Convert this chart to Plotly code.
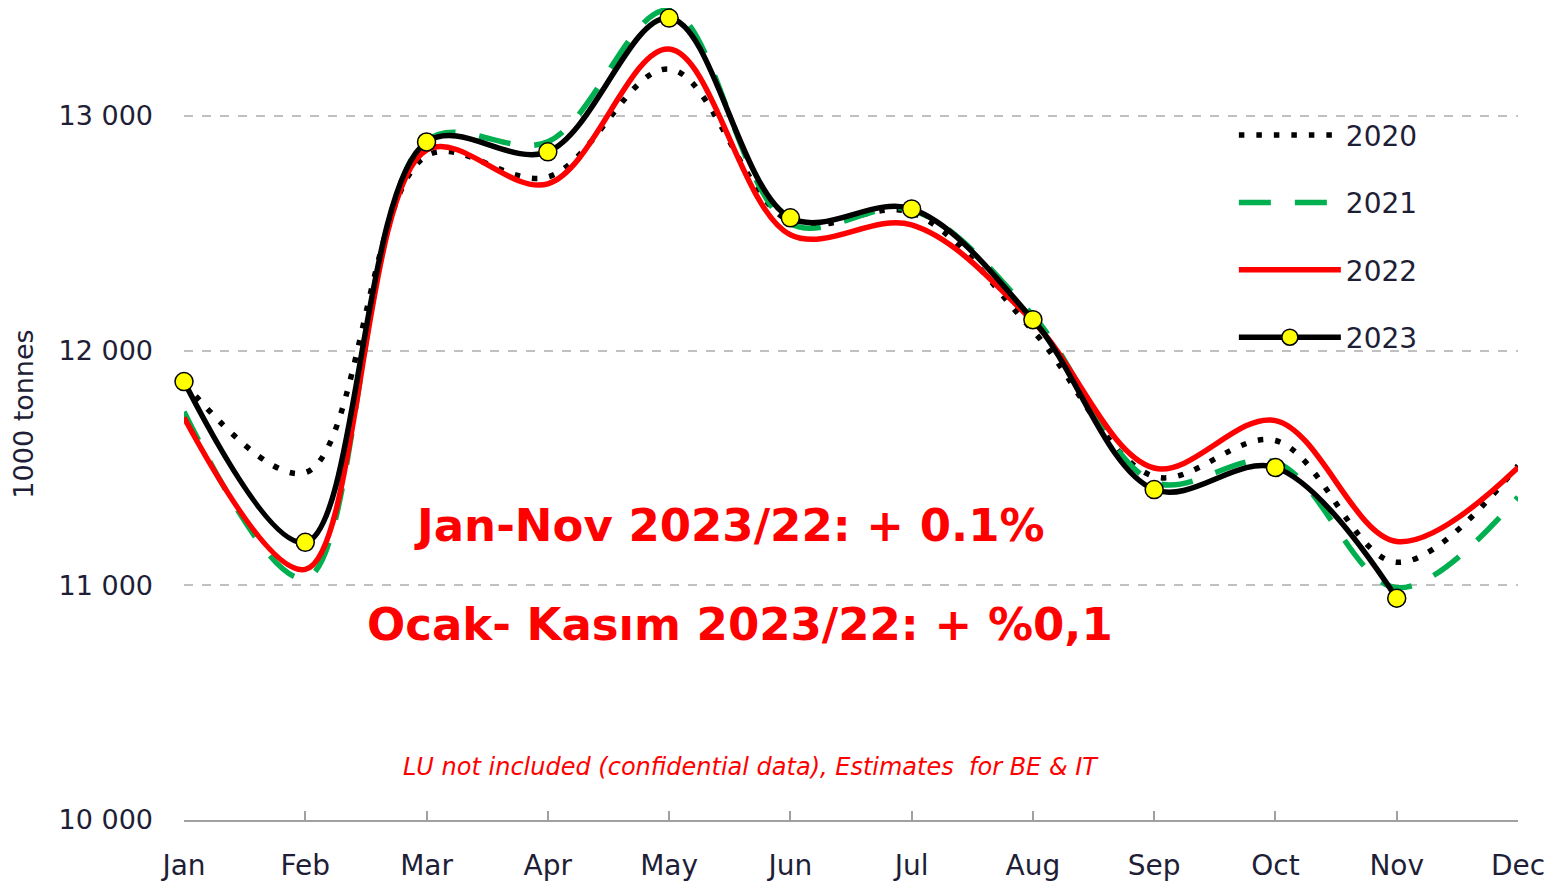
import plotly.graph_objects as go

months = ["Jan", "Feb", "Mar", "Apr", "May", "Jun", "Jul", "Aug", "Sep", "Oct", "Nov", "Dec"]
y2020 = [11864, 11480, 12830, 12740, 13200, 12550, 12588, 12085, 11464, 11617, 11098, 11510]
y2021 = [11740, 11030, 12895, 12890, 13451, 12540, 12600, 12150, 11440, 11525, 10990, 11376]
y2022 = [11715, 11068, 12855, 12711, 13285, 12494, 12536, 12125, 11500, 11702, 11187, 11502]
y2023 = [11868, 11183, 12889, 12847, 13417, 12566, 12604, 12132, 11408, 11502, 10945, None]

ytick_vals = [10000, 11000, 12000, 13000]
ytick_text = ["10 000", "11 000", "12 000", "13 000"]

FONT = "DejaVu Sans"
TXT = "#1E1E36"
x = list(range(len(months)))

fig = go.Figure()
fig.add_trace(go.Scatter(x=x, y=y2020, name="2020", mode="lines", legendgroup="a",
                         line=dict(color="black", width=5.5, dash="5.5px,12px", shape="spline"),
                         cliponaxis=False))
fig.add_trace(go.Scatter(x=x, y=y2021, name="2021", mode="lines", legendgroup="b",
                         line=dict(color="#00B050", width=5.5, dash="32px,24px", shape="spline"),
                         cliponaxis=False))
fig.add_trace(go.Scatter(x=x, y=y2022, name="2022", mode="lines", legendgroup="c",
                         line=dict(color="#FF0000", width=5.5, shape="spline"),
                         cliponaxis=False))
fig.add_trace(go.Scatter(x=x, y=y2023, name="2023", mode="lines+markers", legendgroup="d",
                         line=dict(color="black", width=5.5, shape="spline"),
                         marker=dict(size=18, color="#FFFF00", line=dict(color="black", width=1.5)),
                         cliponaxis=False))

fig.update_layout(
    width=1557, height=884,
    margin=dict(l=176, r=47, t=0, b=72),
    paper_bgcolor="white", plot_bgcolor="white",
    font=dict(family=FONT, color=TXT),
    legend=dict(x=0.787, y=0.874, xanchor="left", yanchor="top",
                font=dict(size=28, family=FONT, color=TXT),
                itemwidth=102, tracegroupgap=28, bgcolor="rgba(0,0,0,0)"),
    xaxis=dict(range=[0, 11], tickmode="array", tickvals=x, ticktext=months,
               showgrid=False, zeroline=False, showline=True, linecolor="#A0A0A0", linewidth=1.5,
               ticks="inside", ticklen=9, tickcolor="#A0A0A0", tickwidth=1.5,
               tickfont=dict(size=28, family=FONT, color=TXT), ticklabelstandoff=20),
    yaxis=dict(range=[10000, 13460], tickmode="array", tickvals=ytick_vals, ticktext=ytick_text,
               showgrid=True, gridcolor="#C0C0C0", griddash="dash", gridwidth=1.5,
               zeroline=False, showline=False, ticks="",
               tickfont=dict(size=27, family=FONT, color=TXT), ticklabelstandoff=30,
               title=dict(text="1000 tonnes", font=dict(size=27, family=FONT, color=TXT),
                          standoff=18)),
    annotations=[
        dict(x=4.50, y=11257, xref="x", yref="y", text="<b>Jan-Nov 2023/22: + 0.1%</b>",
             showarrow=False, font=dict(size=45, family=FONT, color="#FF0000")),
        dict(x=4.585, y=10831, xref="x", yref="y", text="<b>Ocak- Kasım 2023/22: + %0,1</b>",
             showarrow=False, font=dict(size=45, family=FONT, color="#FF0000")),
        dict(x=4.675, y=10226, xref="x", yref="y",
             text="<i>LU not included (confidential data), Estimates  for BE &amp; IT</i>",
             showarrow=False, font=dict(size=24, family=FONT, color="#FF0000")),
    ],
)

fig.write_html("out.html")
